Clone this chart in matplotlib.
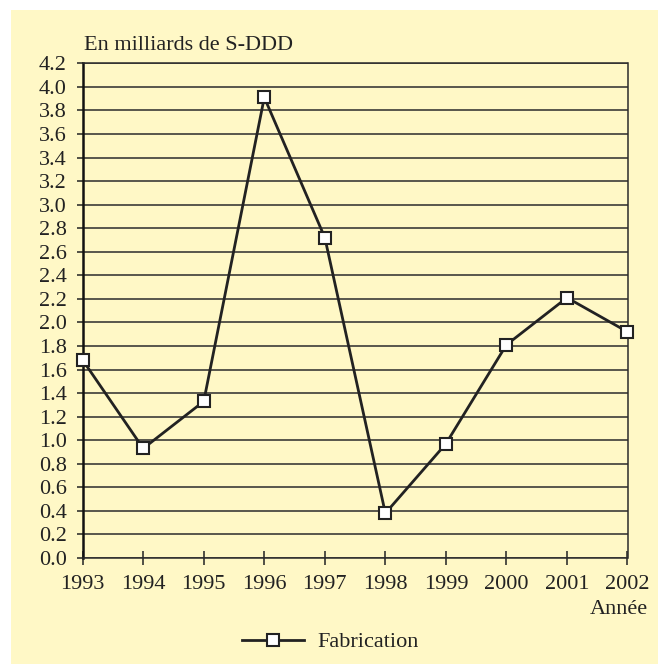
# -*- coding: utf-8 -*-

'''
Fabrication, en milliards de S-DDD, 1993-2002
'''

# %% =================== libraries =============================================

import matplotlib
matplotlib.use('Agg')
import matplotlib.pyplot as plt
from matplotlib.patches import Rectangle
import numpy as np


# %% =================== data ==================================================

annees = [1993, 1994, 1995, 1996, 1997, 1998, 1999, 2000, 2001, 2002]
fabrication = [1.68, 0.93, 1.33, 3.91, 2.72, 0.38, 0.97, 1.81, 2.21, 1.92]

y_ticks = np.round(np.arange(0, 4.21, 0.2), 1)
y_labels = [f'{v:.1f}' for v in y_ticks]

titre_y = 'En milliards de S-DDD'
titre_x = 'Année'
nom_serie = 'Fabrication'


# %% =================== figure ================================================

plt.rcParams['font.family'] = ['Liberation Serif', 'DejaVu Serif']

jaune = '#FFF8C6'
sombre = '#222222'
taille = 16

fig = plt.figure(figsize=(6.58, 6.64), dpi=100, facecolor='white')

# yellow panel (white margin only on top and left)
fig.patches.append(Rectangle((11/658, 0), 1 - 11/658, 1 - 10/664,
                             transform=fig.transFigure, facecolor=jaune,
                             edgecolor='none', zorder=-10))

ax = fig.add_axes([82.7/658, 1 - 558/664, (627.5 - 82.7)/658, (558 - 63.3)/664])
ax.set_facecolor(jaune)

# series
ax.plot(annees, fabrication, color=sombre, lw=2.0, marker='s', ms=8.5,
        mfc='white', mec=sombre, mew=1.5, clip_on=False, zorder=5,
        label=nom_serie)

# axes
ax.set_xlim(annees[0], annees[-1])
ax.set_ylim(0, 4.2)
ax.set_xticks(annees)
ax.set_xticklabels([str(a) for a in annees])
ax.set_yticks(y_ticks)
ax.set_yticklabels(y_labels)

ax.grid(axis='y', color='#2b2b2b', lw=1.1)
ax.set_axisbelow(True)

for lado in ['top', 'right', 'bottom']:
    ax.spines[lado].set_color('#2b2b2b')
    ax.spines[lado].set_linewidth(1.1)
ax.spines['left'].set_color('#111111')
ax.spines['left'].set_linewidth(1.8)

ax.tick_params(axis='y', direction='out', length=4.5, width=1.1,
               color=sombre, pad=7, labelsize=taille, labelcolor=sombre)
ax.tick_params(axis='x', direction='inout', length=10, width=1.1,
               color=sombre, pad=7.5, labelsize=taille, labelcolor=sombre)

# texts
fig.text(84/658, 1 - 50/664, titre_y, ha='left', va='baseline',
         fontsize=taille, color=sombre)
fig.text(648/658, 1 - 614/664, titre_x, ha='right', va='baseline',
         fontsize=taille, color=sombre)

# legend
fig.legend(loc='center', bbox_to_anchor=(330/658, 1 - 642/664),
           frameon=False, fontsize=taille, handlelength=2.8,
           handletextpad=0.6, labelcolor=sombre)

fig.savefig('out.png', dpi=100, facecolor='white')
